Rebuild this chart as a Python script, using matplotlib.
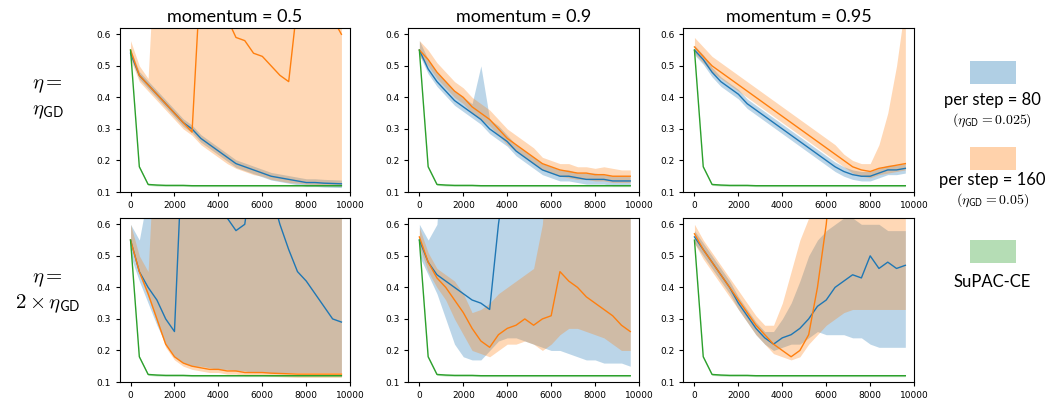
import numpy as np
import matplotlib.pyplot as plt
from matplotlib.patches import Rectangle

steps = np.arange(0, 10000, 400)  # 25 sample points

green_mean = [0.55, 0.18, 0.124, 0.122, 0.121, 0.121, 0.121, 0.12, 0.12, 0.12, 0.12, 0.12, 0.12,
              0.12, 0.12, 0.12, 0.12, 0.12, 0.12, 0.12, 0.12, 0.12, 0.12, 0.12, 0.12]

tl_b = [0.54, 0.47, 0.44, 0.41, 0.38, 0.35, 0.32, 0.30, 0.27, 0.25, 0.23, 0.21, 0.19, 0.18, 0.17,
        0.16, 0.15, 0.145, 0.14, 0.135, 0.13, 0.13, 0.128, 0.127, 0.126]
tl_o = [0.55, 0.47, 0.44, 0.41, 0.38, 0.35, 0.32, 0.29, 0.80, 0.80, 0.75, 0.65, 0.59, 0.58, 0.54,
        0.53, 0.50, 0.47, 0.45, 0.70, 0.80, 0.75, 0.70, 0.65, 0.60]
tl_o_lo = [0.52, 0.45, 0.42, 0.39, 0.36, 0.33, 0.30, 0.28, 0.25, 0.23, 0.21, 0.19, 0.175, 0.165,
           0.155, 0.15, 0.14, 0.135, 0.13, 0.128, 0.125, 0.124, 0.123, 0.122, 0.122]
tl_o_hi = [0.58, 0.50, 0.46, 1.0, 1.0, 1.0, 1.0, 1.0, 1.0, 1.0, 1.0, 1.0, 1.0, 1.0, 1.0,
           1.0, 1.0, 1.0, 1.0, 1.0, 1.0, 1.0, 1.0, 1.0, 1.0]

tm_b = [0.55, 0.49, 0.45, 0.42, 0.39, 0.37, 0.35, 0.33, 0.30, 0.28, 0.26, 0.23, 0.21, 0.19, 0.17,
        0.16, 0.15, 0.15, 0.145, 0.14, 0.14, 0.14, 0.135, 0.135, 0.135]
tm_b_hi = [0.58, 0.52, 0.48, 0.45, 0.42, 0.40, 0.38, 0.50, 0.33, 0.31, 0.28, 0.25, 0.23, 0.21,
           0.19, 0.18, 0.17, 0.17, 0.16, 0.16, 0.16, 0.155, 0.15, 0.15, 0.15]
tm_o = [0.55, 0.52, 0.48, 0.45, 0.42, 0.40, 0.37, 0.35, 0.33, 0.30, 0.27, 0.25, 0.23, 0.21, 0.19,
        0.18, 0.17, 0.165, 0.16, 0.16, 0.155, 0.155, 0.15, 0.15, 0.15]
tm_o_hi = [0.58, 0.55, 0.51, 0.48, 0.45, 0.43, 0.40, 0.38, 0.36, 0.33, 0.30, 0.28, 0.26, 0.24,
           0.21, 0.20, 0.19, 0.19, 0.18, 0.18, 0.175, 0.18, 0.175, 0.17, 0.17]

tr_b = [0.55, 0.52, 0.48, 0.45, 0.43, 0.41, 0.38, 0.36, 0.34, 0.32, 0.30, 0.28, 0.26, 0.24, 0.22,
        0.20, 0.18, 0.165, 0.155, 0.15, 0.15, 0.16, 0.17, 0.17, 0.175]
tr_o = [0.56, 0.53, 0.50, 0.48, 0.46, 0.44, 0.42, 0.40, 0.38, 0.36, 0.34, 0.32, 0.30, 0.28, 0.26,
        0.24, 0.22, 0.20, 0.18, 0.17, 0.165, 0.175, 0.18, 0.185, 0.19]
tr_o_hi = [0.59, 0.56, 0.53, 0.51, 0.49, 0.47, 0.45, 0.43, 0.41, 0.39, 0.37, 0.35, 0.33, 0.31,
           0.29, 0.27, 0.25, 0.22, 0.20, 0.19, 0.19, 0.25, 0.35, 0.50, 0.70]

bl_b = [0.55, 0.45, 0.40, 0.36, 0.30, 0.26, 0.90, 0.90, 0.85, 0.80, 0.70, 0.62, 0.58, 0.60, 0.80,
        0.80, 0.70, 0.60, 0.52, 0.45, 0.42, 0.38, 0.34, 0.30, 0.29]
bl_b_lo = [0.50, 0.42, 0.35, 0.28, 0.22, 0.18, 0.16, 0.15, 0.15, 0.145, 0.14, 0.14, 0.135, 0.135,
           0.13, 0.13, 0.13, 0.13, 0.13, 0.13, 0.13, 0.13, 0.13, 0.13, 0.13]
bl_b_hi = [0.60, 0.55, 0.70, 1.0, 1.0, 1.0, 1.0, 1.0, 1.0, 1.0, 1.0, 1.0, 1.0, 1.0, 1.0,
           1.0, 1.0, 1.0, 1.0, 1.0, 1.0, 1.0, 1.0, 1.0, 1.0]
bl_o = [0.55, 0.45, 0.38, 0.30, 0.22, 0.18, 0.16, 0.15, 0.145, 0.14, 0.14, 0.135, 0.135, 0.13,
        0.13, 0.13, 0.128, 0.127, 0.126, 0.125, 0.125, 0.125, 0.125, 0.125, 0.125]
bl_o_hi = [0.60, 0.50, 0.45, 1.0, 1.0, 1.0, 1.0, 1.0, 1.0, 1.0, 1.0, 1.0, 1.0, 1.0, 1.0,
           1.0, 1.0, 1.0, 1.0, 1.0, 1.0, 1.0, 1.0, 1.0, 1.0]

bm_b = [0.55, 0.48, 0.44, 0.42, 0.40, 0.38, 0.36, 0.35, 0.33, 0.60, 0.80, 0.80, 0.90, 0.90, 0.90,
        0.90, 0.90, 0.90, 0.90, 0.90, 0.90, 0.90, 0.90, 0.90, 0.90]
bm_b_lo = [0.50, 0.44, 0.38, 0.30, 0.22, 0.18, 0.17, 0.17, 0.20, 0.23, 0.24, 0.24, 0.23, 0.22,
           0.21, 0.20, 0.20, 0.19, 0.18, 0.17, 0.17, 0.16, 0.16, 0.16, 0.15]
bm_b_hi = [0.60, 0.55, 0.60, 1.0, 1.0, 1.0, 1.0, 1.0, 1.0, 1.0, 1.0, 1.0, 1.0, 1.0, 1.0,
           1.0, 1.0, 1.0, 1.0, 1.0, 1.0, 1.0, 1.0, 1.0, 1.0]
bm_o = [0.56, 0.48, 0.43, 0.40, 0.36, 0.32, 0.27, 0.23, 0.21, 0.25, 0.27, 0.28, 0.30, 0.28, 0.30,
        0.31, 0.45, 0.42, 0.40, 0.37, 0.35, 0.33, 0.31, 0.28, 0.26]
bm_o_lo = [0.53, 0.45, 0.40, 0.36, 0.30, 0.25, 0.20, 0.19, 0.18, 0.20, 0.22, 0.22, 0.23, 0.22,
           0.20, 0.22, 0.25, 0.27, 0.27, 0.26, 0.25, 0.24, 0.22, 0.20, 0.20]
bm_o_hi = [0.59, 0.51, 0.46, 0.44, 0.42, 0.38, 0.32, 0.33, 0.35, 0.38, 0.40, 0.42, 0.44, 0.46,
           0.60, 1.0, 1.0, 1.0, 1.0, 1.0, 1.0, 1.0, 1.0, 1.0, 1.0]

br_b = [0.56, 0.52, 0.48, 0.44, 0.40, 0.35, 0.31, 0.27, 0.24, 0.22, 0.24, 0.25, 0.27, 0.30, 0.34,
        0.36, 0.40, 0.42, 0.44, 0.43, 0.50, 0.46, 0.48, 0.46, 0.47]
br_b_lo = [0.54, 0.50, 0.46, 0.42, 0.38, 0.33, 0.29, 0.25, 0.22, 0.20, 0.21, 0.22, 0.22, 0.24,
           0.26, 0.25, 0.25, 0.25, 0.24, 0.24, 0.22, 0.21, 0.21, 0.21, 0.21]
br_b_hi = [0.58, 0.54, 0.50, 0.46, 0.42, 0.37, 0.33, 0.29, 0.26, 0.26, 0.30, 0.35, 0.42, 0.50,
           0.55, 0.58, 0.60, 0.62, 0.62, 0.60, 0.60, 0.60, 0.58, 0.58, 0.58]
br_o = [0.57, 0.52, 0.48, 0.44, 0.40, 0.36, 0.32, 0.28, 0.25, 0.22, 0.20, 0.18, 0.20, 0.25, 0.40,
        0.60, 0.90, 0.90, 0.90, 0.90, 0.90, 0.90, 0.90, 0.90, 0.90]
br_o_lo = [0.54, 0.49, 0.45, 0.41, 0.37, 0.33, 0.29, 0.25, 0.22, 0.19, 0.18, 0.17, 0.18, 0.22,
           0.25, 0.28, 0.30, 0.32, 0.33, 0.33, 0.33, 0.33, 0.33, 0.33, 0.33]
br_o_hi = [0.60, 0.55, 0.51, 0.47, 0.43, 0.39, 0.35, 0.31, 0.28, 0.28, 0.35, 0.45, 0.55, 0.62,
           1.0, 1.0, 1.0, 1.0, 1.0, 1.0, 1.0, 1.0, 1.0, 1.0, 1.0]


def band(v, d):
    return [x - d for x in v], [x + d for x in v]


panels = [
    [(tl_b, *band(tl_b, 0.012), tl_o, tl_o_lo, tl_o_hi),
     (tm_b, band(tm_b, 0.015)[0], tm_b_hi, tm_o, band(tm_o, 0.02)[0], tm_o_hi),
     (tr_b, *band(tr_b, 0.015), tr_o, band(tr_o, 0.02)[0], tr_o_hi)],
    [(bl_b, bl_b_lo, bl_b_hi, bl_o, band(bl_o, 0.01)[0], bl_o_hi),
     (bm_b, bm_b_lo, bm_b_hi, bm_o, bm_o_lo, bm_o_hi),
     (br_b, br_b_lo, br_b_hi, br_o, br_o_lo, br_o_hi)],
]
momenta = ["0.5", "0.9", "0.95"]

plt.rcParams['font.family'] = ['Lato', 'DejaVu Sans']
plt.rcParams['mathtext.fontset'] = 'cm'

fig = plt.figure(figsize=(10.58, 4.0), dpi=100)
lefts = [0.113, 0.386, 0.646]
bottoms = [0.52, 0.045]
w, h = 0.218, 0.41
for r in range(2):
    for c in range(3):
        ax = fig.add_axes([lefts[c], bottoms[r], w, h])
        b, blo, bhi, o, olo, ohi = panels[r][c]
        ax.fill_between(steps, blo, bhi, color="C0", alpha=0.3, lw=0)
        ax.plot(steps, b, color="C0", lw=1)
        ax.fill_between(steps, olo, ohi, color="C1", alpha=0.3, lw=0)
        ax.plot(steps, o, color="C1", lw=1)
        g_lo, g_hi = band(green_mean, 0.003)
        ax.fill_between(steps, g_lo, g_hi, color="C2", alpha=0.3, lw=0)
        ax.plot(steps, green_mean, color="C2", lw=1)
        ax.set_ylim(0.1, 0.62)
        ax.set_xlim(-500, 10000)
        ax.set_yticks([0.1, 0.2, 0.3, 0.4, 0.5, 0.6])
        ax.set_xticks([0, 2000, 4000, 6000, 8000, 10000])
        ax.tick_params(labelsize=6.5, length=3)
        for lab in ax.get_xticklabels() + ax.get_yticklabels():
            lab.set_family('DejaVu Sans')
        if r == 0:
            ax.set_title(f"momentum = {momenta[c]}", fontsize=13, pad=4)

fig.text(0.045, 0.755, "$\\eta =$\n$\\eta_{\\mathsf{GD}}$", fontsize=15, ha="center", va="center")
fig.text(0.045, 0.27, "$\\eta =$\n$2 \\times \\eta_{\\mathsf{GD}}$", fontsize=15, ha="center", va="center")

# (colour, patch bottom, label centre, label, sub-label centre, sub-label)
legend_items = [
    ("C0", 0.79, 0.75, "per step = 80", 0.70, "$(\\eta_{\\mathsf{GD}} = 0.025)$"),
    ("C1", 0.575, 0.55, "per step = 160", 0.50, "$(\\eta_{\\mathsf{GD}} = 0.05)$"),
    ("C2", 0.343, 0.295, "SuPAC-CE", None, None),
]
for col, y, ly, lab, sy, sub in legend_items:
    fig.patches.append(Rectangle((0.917, y), 0.043, 0.057, transform=fig.transFigure,
                                 color=col, alpha=0.35, lw=0))
    fig.text(0.938, ly, lab, fontsize=12, ha="center", va="center")
    if sub:
        fig.text(0.938, sy, sub, fontsize=10, ha="center", va="center")

fig.savefig("out.png", dpi=100)
